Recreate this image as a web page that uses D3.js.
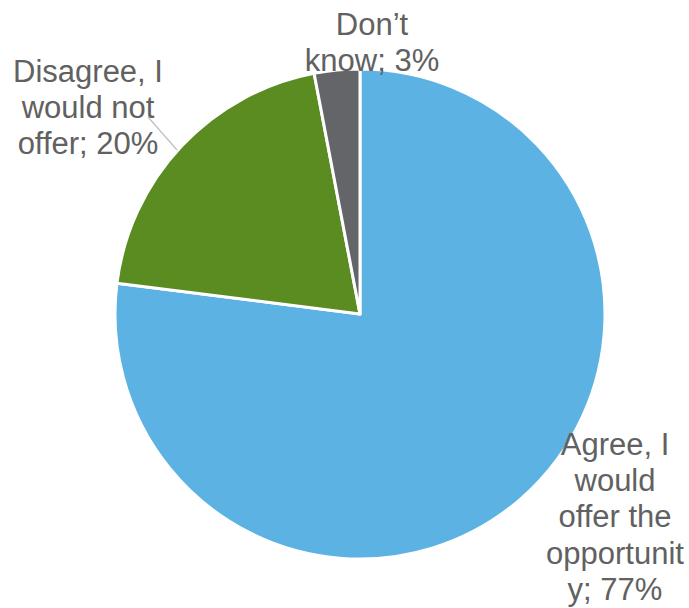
<!DOCTYPE html>
<html>
<head>
<meta charset="utf-8">
<script src="https://cdn.jsdelivr.net/npm/d3@7"></script>
<style>
  html, body { margin: 0; padding: 0; background: #fff; }
  svg { display: block; }
</style>
</head>
<body>
<svg id="chart" width="689" height="608"></svg>
<script>
// Survey responses, share of respondents (%)
const categories = ["Agree, I would offer the opportunity", "Disagree, I would not offer", "Don’t know"];
const values = [77, 20, 3];
const colors = ["#5cb3e3", "#5b8c21", "#646568"];
// Data labels as wrapped lines
const labelLines = [
  ["Agree, I", "would", "offer the", "opportunit", "y; 77%"],
  ["Disagree, I", "would not", "offer; 20%"],
  ["Don’t", "know; 3%"]
];
const labelAnchors = [[615, 455], [88, 82], [372, 35]];

const svg = d3.select("#chart");
const cx = 360, cy = 314, r = 245;

const pie = d3.pie().sort(null).value(d => d)(values);
const arc = d3.arc().innerRadius(0).outerRadius(r);

const g = svg.append("g").attr("transform", `translate(${cx},${cy})`);
g.selectAll("path")
  .data(pie)
  .join("path")
  .attr("d", arc)
  .attr("fill", (d, i) => colors[i])
  .attr("stroke", "#fff")
  .attr("stroke-width", 3)
  .attr("stroke-linejoin", "round");

// Leader line for the "Disagree" label
svg.append("line")
  .attr("x1", 148).attr("y1", 117)
  .attr("x2", 177).attr("y2", 150)
  .attr("stroke", "#bfbfbf")
  .attr("stroke-width", 1.2);

const lineH = 36.2;
labelLines.forEach((lines, i) => {
  const t = svg.append("text")
    .attr("x", labelAnchors[i][0])
    .attr("y", labelAnchors[i][1])
    .attr("text-anchor", "middle")
    .attr("font-family", "Liberation Sans, Arial, sans-serif")
    .attr("font-size", 31)
    .attr("fill", "#616161");
  lines.forEach((s, j) => {
    t.append("tspan")
      .attr("x", labelAnchors[i][0])
      .attr("y", labelAnchors[i][1] + j * lineH)
      .text(s);
  });
});
</script>
</body>
</html>
